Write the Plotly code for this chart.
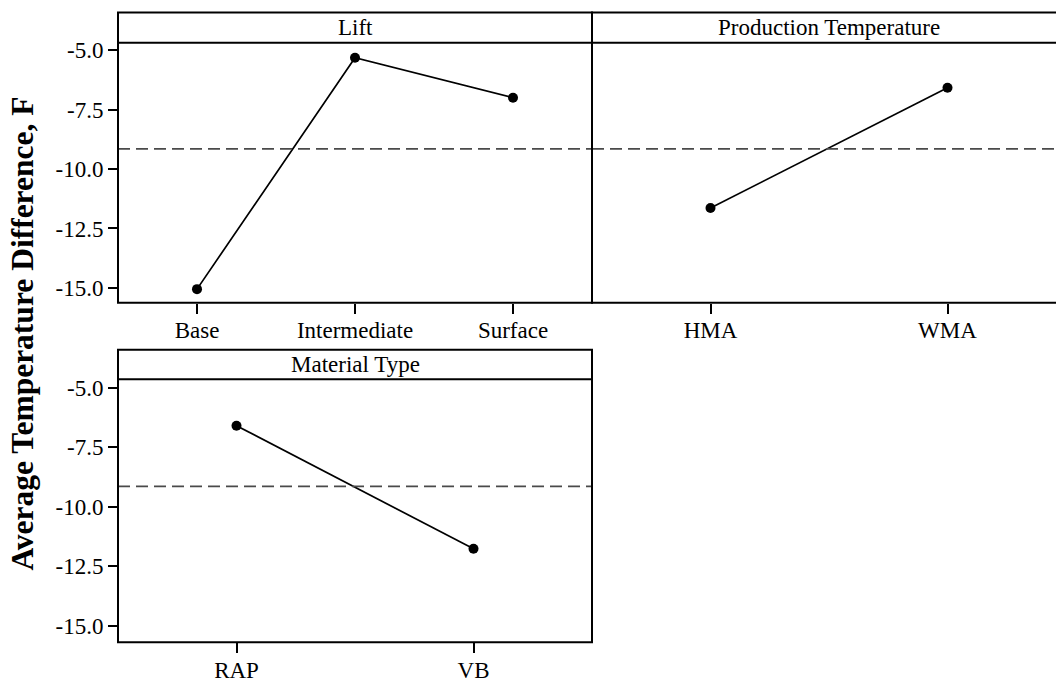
import plotly.graph_objects as go

# Main effects for the average temperature difference (F)
lift_levels = ["Base", "Intermediate", "Surface"]
lift_means = [-15.05, -5.32, -7.0]

prod_levels = ["HMA", "WMA"]
prod_means = [-11.64, -6.58]

material_levels = ["RAP", "VB"]
material_means = [-6.6, -11.77]

grand_mean = -9.15

y_ticks = [-5.0, -7.5, -10.0, -12.5, -15.0]
y_tick_text = ["-5.0", "-7.5", "-10.0", "-12.5", "-15.0"]

W, H = 1056, 683
FONT = "Liberation Serif"
TXT = 23


def px_x(v):
    return v / W


def px_y(v):
    return 1 - v / H


fig = go.Figure()

panels = [
    # (x levels, means, xaxis id, yaxis id, title, left px, right px, frame top, strip bottom, frame bottom, y-range)
    (lift_levels, lift_means, "x", "y", "Lift", 118, 592, 7.7, 38.3, 301.7, [-15.622, -4.693]),
    (prod_levels, prod_means, "x2", "y2", "Production Temperature", 592, 1066, 7.7, 38.3, 301.7, [-15.622, -4.693]),
    (material_levels, material_means, "x3", "y3", "Material Type", 118, 592, 349.3, 379.3, 645.7, [-15.692, -4.652]),
]

for levels, means, xa, ya, title, left, right, ftop, sbot, fbot, yr in panels:
    n = len(levels)
    xs = list(range(1, n + 1))
    fig.add_trace(go.Scatter(
        x=xs, y=means, xaxis=xa, yaxis=ya, mode="lines+markers",
        line=dict(color="black", width=1.7),
        marker=dict(color="black", size=10),
        showlegend=False, hoverinfo="skip",
    ))
    # reference line at the overall mean
    fig.add_shape(type="line", xref=f"{xa} domain", yref=ya,
                  x0=0, x1=1, y0=grand_mean, y1=grand_mean,
                  line=dict(color="#4a4a4a", width=1.7, dash="12px,6px"))
    # panel frame and title strip
    fig.add_shape(type="rect", xref="paper", yref="paper",
                  x0=px_x(left), x1=px_x(right), y0=px_y(fbot), y1=px_y(ftop),
                  line=dict(color="black", width=2))
    fig.add_shape(type="line", xref="paper", yref="paper",
                  x0=px_x(left), x1=px_x(right), y0=px_y(sbot), y1=px_y(sbot),
                  line=dict(color="black", width=2))
    fig.add_annotation(text=title, xref="paper", yref="paper",
                       x=px_x((left + right) / 2), y=px_y((ftop + sbot) / 2),
                       xanchor="center", yanchor="middle", showarrow=False,
                       font=dict(family=FONT, size=TXT, color="black"))

    right_vis = min(right, W)
    xmax = 0.5 + n * (right_vis - left) / (right - left)
    ax_name = "xaxis" if xa == "x" else "xaxis" + xa[1:]
    ay_name = "yaxis" if ya == "y" else "yaxis" + ya[1:]
    fig.update_layout(**{
        ax_name: dict(
            domain=[px_x(left), px_x(right_vis)], anchor=ya,
            range=[0.5, xmax], tickmode="array", tickvals=xs, ticktext=levels,
            ticks="outside", ticklen=10, tickwidth=2, tickcolor="black",
            ticklabelstandoff=-3,
            showline=False, showgrid=False, zeroline=False, fixedrange=True,
            tickfont=dict(family=FONT, size=TXT, color="black"),
        ),
        ay_name: dict(
            domain=[px_y(fbot), px_y(sbot)], anchor=xa, range=yr,
            tickmode="array", tickvals=y_ticks, ticktext=y_tick_text,
            ticks="outside" if xa != "x2" else "", ticklen=9, tickwidth=2,
            tickcolor="black", showticklabels=(xa != "x2"),
            showline=False, showgrid=False, zeroline=False, fixedrange=True,
            tickfont=dict(family=FONT, size=TXT, color="black"),
        ),
    })

fig.add_annotation(text="<b>Average Temperature Difference, F</b>",
                   xref="paper", yref="paper", x=px_x(23), y=px_y(333),
                   xanchor="center", yanchor="middle", textangle=-90,
                   showarrow=False,
                   font=dict(family=FONT, size=31.5, color="black"))

fig.update_layout(
    width=W, height=H,
    margin=dict(l=0, r=0, t=0, b=0),
    paper_bgcolor="white", plot_bgcolor="white",
)

fig.write_html("out.html", config={"displayModeBar": False})
